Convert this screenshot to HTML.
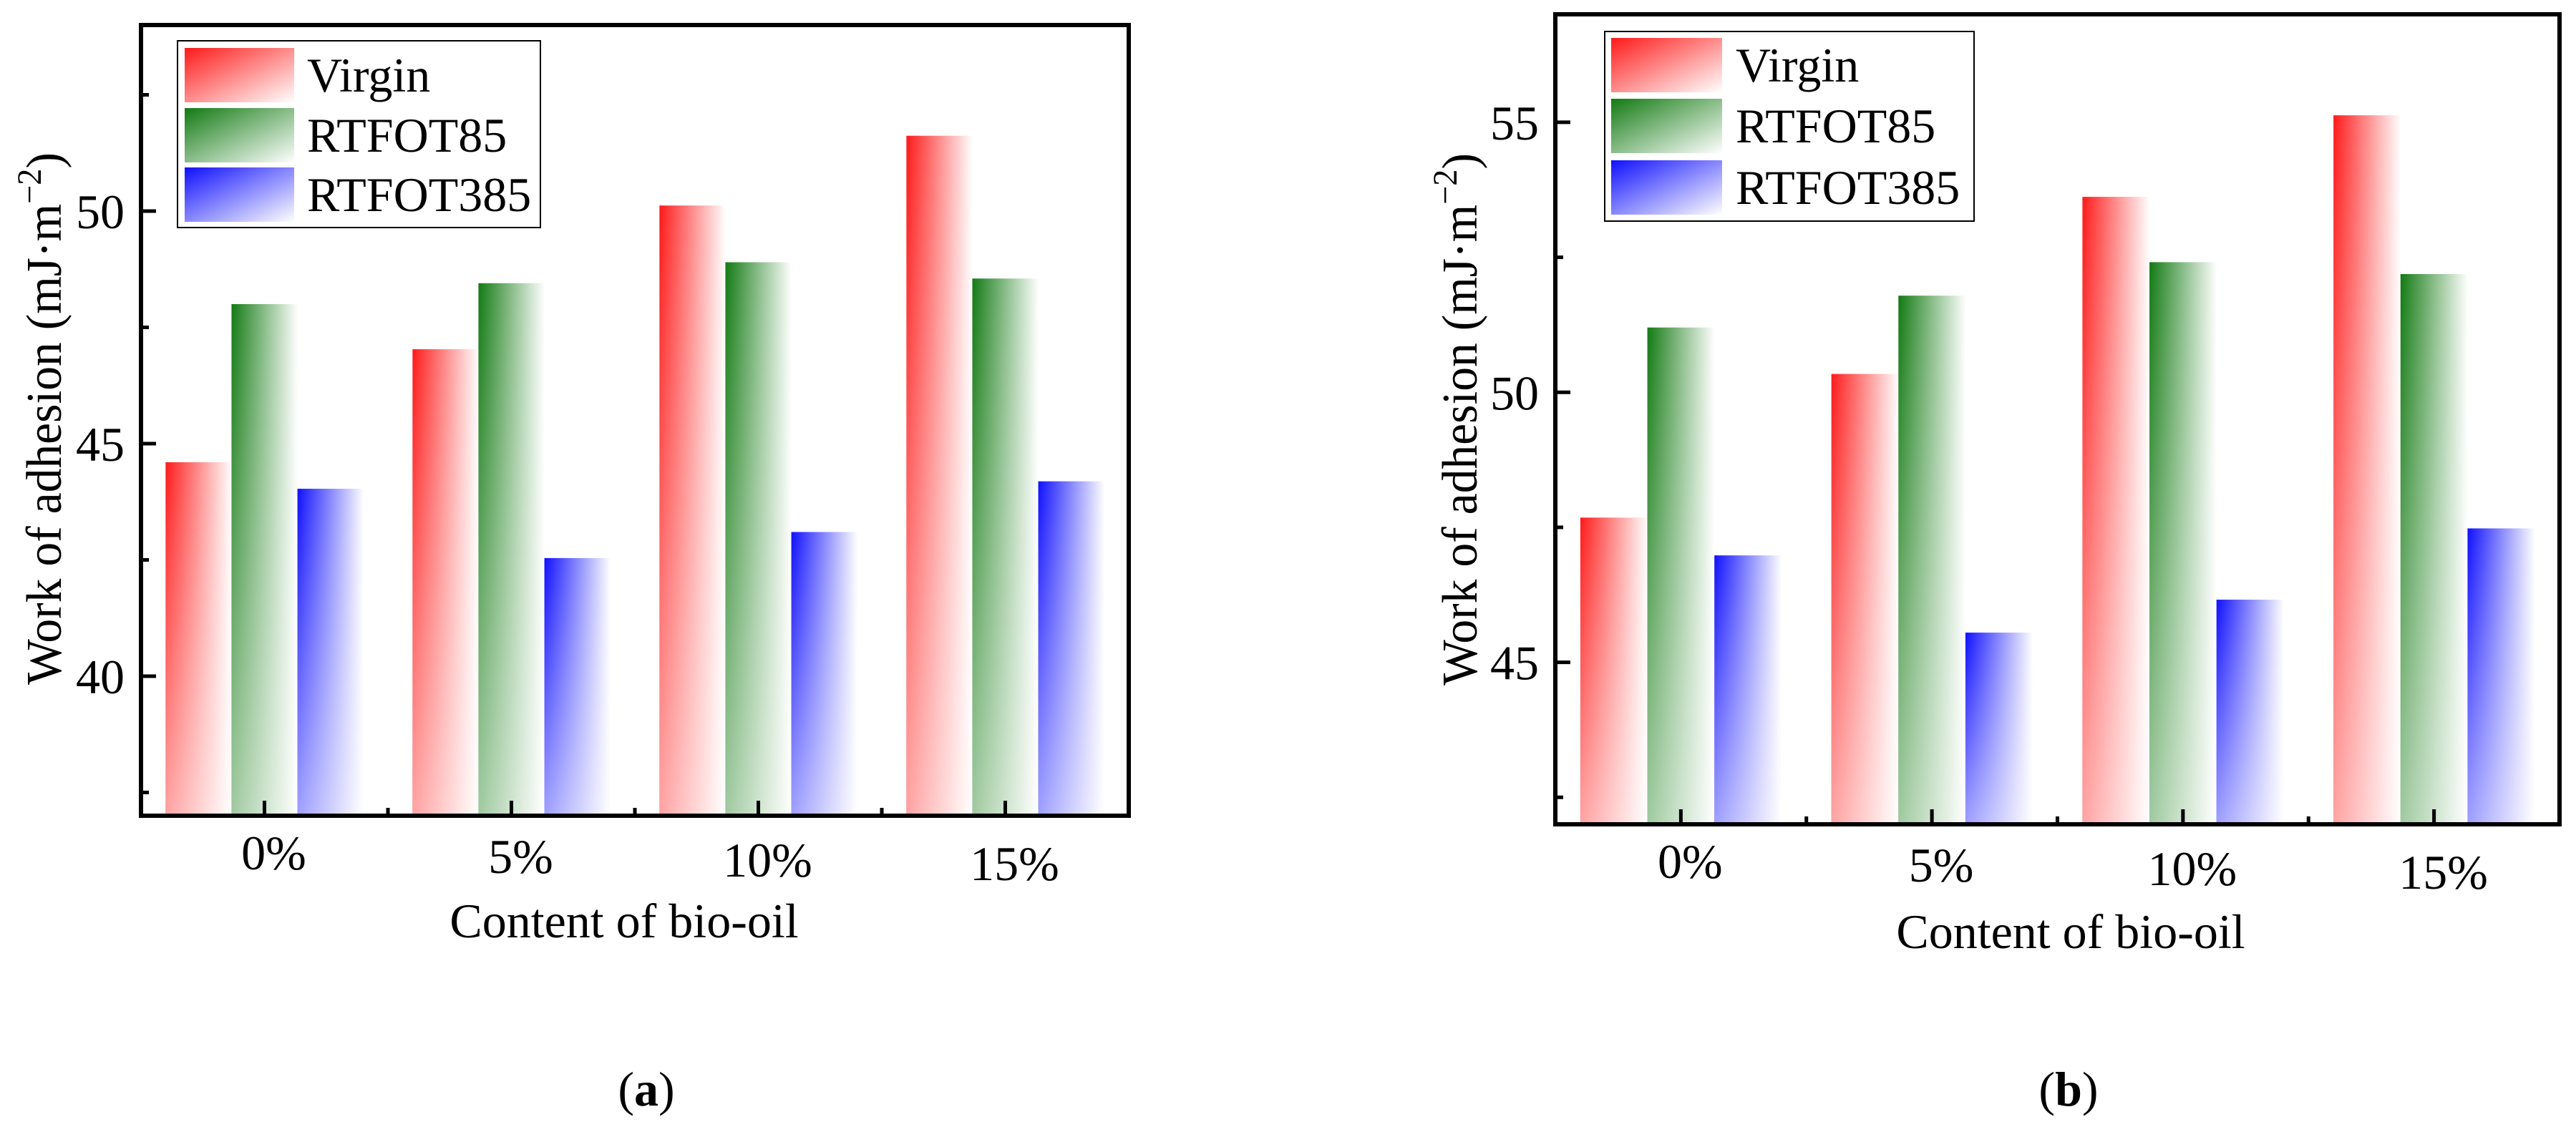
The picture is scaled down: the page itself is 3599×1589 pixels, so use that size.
<!DOCTYPE html>
<html><head><meta charset="utf-8"><style>
html,body{margin:0;padding:0;background:#fff;}
svg, svg text{font-family:"Liberation Serif","DejaVu Serif","Times New Roman",serif;}
svg{display:block;}
</style></head><body>
<svg id="fig" width="3599" height="1589" viewBox="0 0 3599 1589" xmlns="http://www.w3.org/2000/svg" font-family="Liberation Serif, DejaVu Serif, serif">
<defs>
  <linearGradient id="gRed" x1="0" y1="0" x2="1" y2="0"><stop offset="0" stop-color="#ff1a1a"/><stop offset="1" stop-color="#ffffff"/></linearGradient>
  <linearGradient id="gGreen" x1="0" y1="0" x2="1" y2="0"><stop offset="0" stop-color="#137a13"/><stop offset="1" stop-color="#ffffff"/></linearGradient>
  <linearGradient id="gBlue" x1="0" y1="0" x2="1" y2="0"><stop offset="0" stop-color="#1010ff"/><stop offset="1" stop-color="#ffffff"/></linearGradient>
  <linearGradient id="gFade" x1="0" y1="0" x2="0" y2="1"><stop offset="0" stop-color="#fff" stop-opacity="0"/><stop offset="1" stop-color="#fff" stop-opacity="0.6"/></linearGradient>
  <linearGradient id="lRed" x1="0" y1="0" x2="1" y2="1"><stop offset="0" stop-color="#ff1a1a"/><stop offset="1" stop-color="#ffffff"/></linearGradient>
  <linearGradient id="lGreen" x1="0" y1="0" x2="1" y2="1"><stop offset="0" stop-color="#137a13"/><stop offset="1" stop-color="#ffffff"/></linearGradient>
  <linearGradient id="lBlue" x1="0" y1="0" x2="1" y2="1"><stop offset="0" stop-color="#1010ff"/><stop offset="1" stop-color="#ffffff"/></linearGradient>
</defs>
</svg>
<script>
const categories = ["0%", "5%", "10%", "15%"];
const seriesNames = ["Virgin", "RTFOT85", "RTFOT385"];
const virginA = [44.6, 47.03, 50.12, 51.62];
const rtfot85A = [48.0, 48.45, 48.9, 48.55];
const rtfot385A = [44.03, 42.54, 43.1, 44.19];
const virginB = [47.68, 50.34, 53.62, 55.13];
const rtfot85B = [51.2, 51.79, 52.41, 52.19];
const rtfot385B = [46.98, 45.55, 46.16, 47.48];
const yTicksA = [40, 45, 50];
const yMinorA = [37.5, 42.5, 47.5, 52.5];
const yDomainA = [37, 54];
const yTicksB = [45, 50, 55];
const yMinorB = [42.5, 47.5, 52.5];
const yDomainB = [42, 57];

const NS = "http://www.w3.org/2000/svg";
const FF = "Liberation Serif, DejaVu Serif, serif";
const svg = document.getElementById("fig");
function mk(tag, attrs, parent) {
  const e = document.createElementNS(NS, tag);
  for (const k in attrs) e.setAttribute(k, attrs[k]);
  if (tag === "text") e.setAttribute("font-family", FF);
  (parent || svg).appendChild(e);
  return e;
}
const fills = ["url(#gRed)", "url(#gGreen)", "url(#gBlue)"];
const lfills = ["url(#lRed)", "url(#lGreen)", "url(#lBlue)"];

function panel(p) {
  const g = mk("g", {});
  
  
  const y = v => p.bottom - (v - p.domain[0]) / (p.domain[1] - p.domain[0]) * (p.bottom - p.top);
  const gw = (p.right - p.left) / categories.length;
  const bw = gw * 0.267;
  const pad = (gw - 3 * bw) / 2;
  const series = [p.v1, p.v2, p.v3];
  series.forEach((vals, s) => {
    vals.forEach((v, i) => {
      const x = p.left + i * gw + pad + s * bw;
      const r = mk("rect", {x: x, y: y(v), width: bw + 0.5, height: p.bottom - y(v), fill: fills[s]}, g);
      
      
      mk("rect", {x: x, y: y(v), width: bw + 0.5, height: p.bottom - y(v), fill: "url(#gFade)"}, g);
    });
  });
  const box = mk("rect", {x: p.left, y: p.top, width: p.right - p.left, height: p.bottom - p.top, fill: "none", stroke: "#000", "stroke-width": 6}, g);
  
  
  p.ticks.forEach(t => {
    mk("line", {x1: p.left, x2: p.left + 21, y1: y(t), y2: y(t), stroke: "#000", "stroke-width": 5}, g);
    const tl = mk("text", {x: p.left - 23, y: y(t) + 24, "text-anchor": "end", "font-size": 68}, g);
    tl.textContent = t;
    
    
  });
  p.minor.forEach(t => {
    mk("line", {x1: p.left, x2: p.left + 11, y1: y(t), y2: y(t), stroke: "#000", "stroke-width": 5}, g);
  });
  categories.forEach((c, i) => {
    const cx = p.left + (i + 0.5) * gw;
    mk("line", {x1: cx, x2: cx, y1: p.bottom, y2: p.bottom - 21, stroke: "#000", "stroke-width": 5}, g);
    if (i > 0) mk("line", {x1: p.left + i * gw, x2: p.left + i * gw, y1: p.bottom, y2: p.bottom - 11, stroke: "#000", "stroke-width": 5}, g);
    const tl = mk("text", {x: cx + 13, y: p.bottom + 75 + i * 5, "text-anchor": "middle", "font-size": 68}, g);
    tl.textContent = c;
    
    
  });
  const xt = mk("text", {x: p.xtX, y: p.xtY, "text-anchor": "middle", "font-size": 68}, g);
  xt.textContent = "Content of bio-oil";
  
  
  const yt = mk("text", {x: 0, y: 0, "text-anchor": "middle", "font-size": 70, transform: "translate(" + p.ytX + "," + p.ytY + ") rotate(-90)", textLength: 744, lengthAdjust: "spacingAndGlyphs"}, g);
  yt.innerHTML = 'Work of adhesion (mJ·m<tspan dy="-28" font-size="48">−2</tspan><tspan dy="28">)</tspan>';
  
  
  const lg = mk("g", {}, g);
  
  
  mk("rect", {x: p.lg.x, y: p.lg.y, width: p.lg.w, height: p.lg.h, fill: "#fff", stroke: "#000", "stroke-width": 2}, lg);
  seriesNames.forEach((n, s) => {
    const e = mk("g", {}, lg);
    
    
    mk("rect", {x: p.lg.sx, y: p.lg.rows[s], width: p.lg.sw, height: 76, fill: lfills[s]}, e);
    const t = mk("text", {x: p.lg.tx, y: p.lg.rows[s] + 61, "font-size": 68}, e);
    t.textContent = n;
  });
  const pl = mk("text", {x: p.labX, y: 1545, "text-anchor": "middle", "font-size": 68}, g);
  pl.innerHTML = '(<tspan font-weight="bold">' + p.id + '</tspan>)';
  
  
}

panel({id: "a", left: 197, right: 1577, top: 35, bottom: 1140, domain: yDomainA, ticks: yTicksA, minor: yMinorA,
  v1: virginA, v2: rtfot85A, v3: rtfot385A, xtX: 872, xtY: 1310, ytX: 85, ytY: 585, labX: 903,
  lg: {x: 248, y: 57, w: 507, h: 261, sx: 258, sw: 153, tx: 429, rows: [67, 151, 234]}});
panel({id: "b", left: 2173, right: 3576, top: 20, bottom: 1152, domain: yDomainB, ticks: yTicksB, minor: yMinorB,
  v1: virginB, v2: rtfot85B, v3: rtfot385B, xtX: 2893, xtY: 1325, ytX: 2063, ytY: 586, labX: 2890,
  lg: {x: 2242, y: 44, w: 516, h: 265, sx: 2251, sw: 155, tx: 2425, rows: [53, 138, 224]}});
</script>
</body></html>
